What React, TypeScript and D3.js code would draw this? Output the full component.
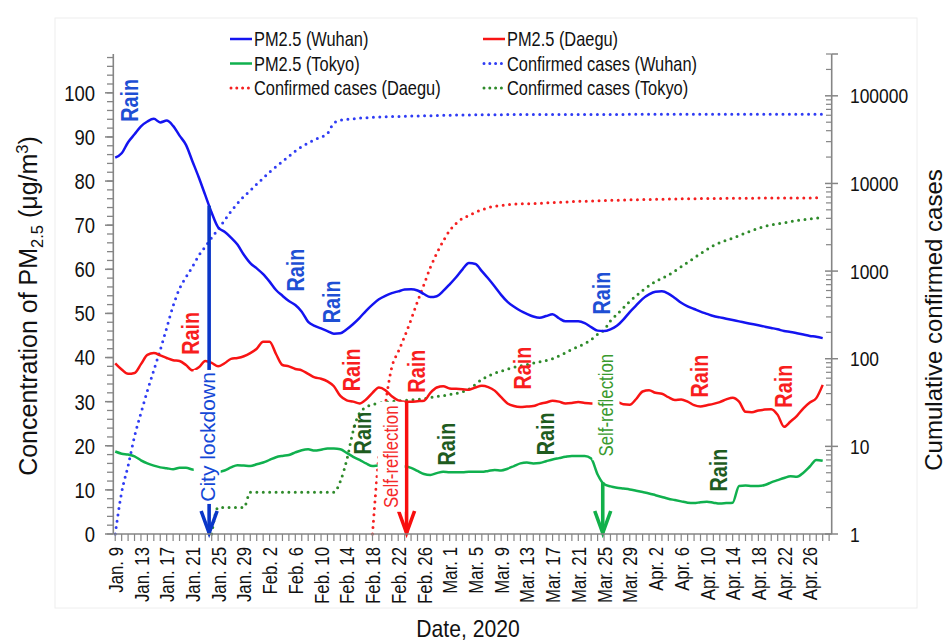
import React from "react";
import * as d3 from "d3";

// ---- data -----------------------------------------------------------------
// x tick labels (every 4th day, starting Jan. 9, 2020 = day 0)
const dayLabels = [
  "Jan. 9", "Jan. 13", "Jan. 17", "Jan. 21", "Jan. 25", "Jan. 29", "Feb. 2",
  "Feb. 6", "Feb. 10", "Feb. 14", "Feb. 18", "Feb. 22", "Feb. 26", "Mar. 1",
  "Mar. 5", "Mar. 9", "Mar. 13", "Mar. 17", "Mar. 21", "Mar. 25", "Mar. 29",
  "Apr. 2", "Apr. 6", "Apr. 10", "Apr. 14", "Apr. 18", "Apr. 22", "Apr. 26",
];

// daily PM2.5 (µg/m3), Jan. 9 .. Apr. 28
const pmWuhan = [
  85.3, 86.3, 88.8, 90.6, 92.4, 93.5, 94.1, 93.3, 93.7, 92.5, 90.3, 88.2, 84.5, 80.8, 76.8, 72.8,
  69.5, 68.5, 67.2, 65.6, 63.3, 61.4, 60.2, 58.9, 57.2, 55.3, 54.0, 52.8, 51.9, 50.4, 48.1, 47.2,
  46.6, 46.0, 45.4, 45.5, 46.4, 47.6, 49.0, 50.6, 52.0, 53.2, 54.0, 54.6, 55.0, 55.4, 55.5, 55.2,
  54.4, 53.7, 53.9, 55.1, 56.6, 58.2, 60.0, 61.4, 61.2, 59.6, 57.9, 56.1, 54.2, 52.6, 51.5, 50.6,
  49.9, 49.3, 49.0, 49.4, 49.8, 48.9, 48.2, 48.2, 48.2, 47.8, 46.9, 46.1, 46.0, 46.4, 47.2, 48.6,
  50.3, 51.8, 53.3, 54.3, 54.9, 55.0, 54.5, 53.5, 52.4, 51.6, 51.0, 50.4, 49.9, 49.4, 49.1, 48.8,
  48.5, 48.2, 47.9, 47.6, 47.3, 47.0, 46.7, 46.4, 46.0, 45.8, 45.5, 45.2, 44.9, 44.7, 44.4,
];
const pmDaegu = [
  38.7, 37.3, 36.3, 36.5, 38.5, 40.6, 41.0, 40.5, 39.9, 39.4, 39.2, 38.3, 37.1, 37.8, 39.2, 38.8,
  38.0, 38.7, 39.7, 39.9, 40.3, 41.0, 42.0, 43.6, 43.6, 40.8, 38.3, 38.0, 37.4, 37.1, 36.3, 35.5,
  35.2, 34.6, 33.5, 31.3, 30.3, 30.0, 29.6, 30.5, 32.0, 33.2, 32.6, 31.2, 30.3, 30.0, 30.0, 30.1,
  30.2, 32.0, 33.2, 33.5, 33.0, 32.9, 32.8, 32.7, 33.2, 33.6, 33.3, 32.5, 31.0, 29.6, 29.0, 28.8,
  28.9, 29.0, 29.5, 29.8, 30.2, 30.0, 29.6, 29.7, 29.9, 29.7, 29.6, 29.6, 29.7, 29.8, 29.9, 29.4,
  29.3, 30.6, 32.3, 32.6, 32.0, 31.8, 31.0, 30.4, 30.5, 30.0, 29.2, 28.9, 29.2, 29.5, 29.9, 30.5,
  30.9, 30.0, 27.7, 27.6, 28.0, 28.2, 28.3, 27.0, 24.3, 25.5, 26.8, 28.5, 29.8, 30.8, 33.8,
];
const pmTokyo = [
  18.7, 18.2, 18.0, 17.6, 16.7, 16.0, 15.5, 15.1, 14.9, 14.7, 15.0, 15.0, 14.6, 14.4, 14.3, 14.2,
  14.1, 14.4, 15.1, 15.6, 15.5, 15.4, 15.8, 16.2, 16.8, 17.4, 17.7, 17.9, 18.5, 19.0, 19.2, 18.9,
  19.1, 19.4, 19.4, 19.2, 18.4, 17.5, 16.8, 16.0, 15.4, 15.5, 15.4, 15.4, 15.3, 15.3, 15.0, 14.3,
  13.6, 13.4, 13.8, 14.1, 14.0, 14.0, 14.0, 14.1, 14.1, 14.1, 14.3, 14.5, 14.4, 14.8, 15.4, 16.0,
  16.2, 16.0, 16.1, 16.5, 16.9, 17.2, 17.5, 17.7, 17.7, 17.7, 17.1, 13.5, 11.3, 10.8, 10.5, 10.3,
  10.1, 9.8, 9.5, 9.2, 8.8, 8.4, 8.0, 7.7, 7.4, 7.1, 7.0, 7.2, 7.3, 7.1, 6.9, 7.0,
  7.1, 10.9, 11.0, 10.9, 10.9, 11.1, 11.7, 12.2, 12.7, 13.1, 13.0, 13.9, 15.3, 16.8, 16.6,
];

// cumulative confirmed cases (day index, count)
const wuhanCaseDays = [
  0, 1, 2, 3, 4, 5, 6, 7, 8, 9, 10, 11, 12, 13, 14, 15, 16, 17, 18, 19, 20, 21, 22, 23, 24, 25,
  26, 27, 28, 29, 30, 31, 32, 33, 34, 35, 36, 38, 42, 50, 60, 110,
];
const wuhanCases = [
  1, 3, 6, 13, 24, 43, 74, 126, 224, 400, 630, 850, 1120, 1510, 1900, 2400, 3000, 3800, 4800,
  5900, 7100, 8300, 9800, 11500, 13500, 15500, 17800, 20400, 23400, 26300, 28800, 31600, 33900,
  37100, 49000, 52500, 53700, 55600, 57500, 59600, 61000, 61700,
];
const daeguCaseDays = [
  40, 41, 42, 43, 44, 45, 46, 47, 48, 49, 50, 51, 52, 53, 54, 55, 56, 57, 58, 59, 60, 62, 65, 70,
  75, 80, 90, 100, 110,
];
const daeguCases = [
  1, 8, 30, 80, 120, 180, 280, 450, 700, 1100, 1600, 2200, 2900, 3500, 4000, 4300, 4700, 5000,
  5300, 5500, 5600, 5800, 5900, 6150, 6350, 6500, 6700, 6800, 6850,
];
const tokyoCaseDays = [
  15, 16, 20, 21, 34, 35, 36, 37, 38, 40, 44, 48, 50, 52, 55, 57, 61, 65, 68, 71, 74, 75, 76, 77,
  78, 80, 82, 84, 86, 88, 91, 93, 96, 99, 101, 104, 106, 110,
];
const tokyoCases = [
  1, 2, 2, 3, 3, 4, 7, 15, 24, 30, 33, 35, 37, 39, 45, 58, 76, 89, 100, 128, 165, 190, 212, 270,
  320, 450, 600, 760, 900, 1120, 1580, 1950, 2380, 2900, 3250, 3560, 3780, 4070,
];

// rain annotations: day and PM2.5 level of the label centre, colour group
const rainDays = [2.3, 28, 33.7, 75.7, 11.8, 36.8, 46.8, 63.3, 90.8, 104, 38.5, 51.6, 67, 93.9];
const rainLevels = [98.3, 59.8, 52.6, 54.6, 45.5, 37.2, 36.9, 37.6, 35.8, 33.5, 22.9, 20.4, 22.7, 14.5];
const rainGroups = ["w", "w", "w", "w", "d", "d", "d", "d", "d", "d", "t", "t", "t", "t"];

// policy events: arrow day, label text, label centre (day, level)
const eventDays = [14.6, 45.3, 75.8];
const eventTexts = ["City lockdown", "Self-reflection", "Self-reflection"];
const eventLabelDays = [14.3, 42.9, 76.3];
const eventLabelLevels = [22, 17.5, 29.2];

// ---- styling ----------------------------------------------------------------
const W = 946;
const H = 643;
const FONT = "'Liberation Sans', Arial, Helvetica, sans-serif";
const AXIS = "#858585";

const C = {
  wuhan: "#1414f0",
  daegu: "#f81414",
  tokyo: "#10b04e",
  wuhanCase: "#2f3cf4",
  daeguCase: "#f52020",
  tokyoCase: "#2e8a2a",
  rainW: "#1e4fd4",
  rainD: "#f81e1e",
  rainT: "#1f5c1f",
};
const eventText = ["#1448d6", "#f52a2a", "#3a9a2e"];
const eventArrow = ["#0a36c8", "#f80e0e", "#12b04a"];

const x = d3.scaleLinear().domain([-0.3, 111.4]).range([113.3, 831.7]);
const yL = d3.scaleLinear().domain([0, 108.8]).range([534, 54]);
const yR = d3.scaleLog().domain([1, 3e5]).range([534, 54]);

type Pt = [number, number];
const pmLine = d3
  .line<Pt>()
  .x((d) => x(d[0]))
  .y((d) => yL(d[1]))
  .curve(d3.curveMonotoneX);
const caseLine = d3
  .line<Pt>()
  .x((d) => x(d[0]))
  .y((d) => yR(d[1]))
  .curve(d3.curveMonotoneX);

const daily = (vals: number[]): Pt[] => vals.map((v, i) => [i, v]);
const zipPts = (ds: number[], vs: number[]): Pt[] => ds.map((d, i) => [d, vs[i]]);
const valueAt = (vals: number[], day: number) => {
  const i = Math.floor(day);
  const f = day - i;
  return vals[i] + (vals[Math.min(i + 1, vals.length - 1)] - vals[i]) * f;
};

type TProps = {
  x: number;
  y: number;
  rot?: number;
  sx?: number;
  anchor?: "start" | "middle" | "end";
  size: number;
  weight?: string | number;
  fill?: string;
  dy?: string;
  children: React.ReactNode;
};
const T = ({ x, y, rot = 0, sx = 1, anchor = "start", size, weight = "normal", fill = "#111", dy, children }: TProps) => (
  <text
    transform={`translate(${x},${y}) rotate(${rot}) scale(${sx},1)`}
    textAnchor={anchor}
    fontSize={size}
    fontWeight={weight}
    fill={fill}
    fontFamily={FONT}
    dy={dy}
  >
    {children}
  </text>
);

const legendRows = [
  { label: "PM2.5 (Wuhan)", color: C.wuhan, dotted: false, col: 0, row: 0 },
  { label: "PM2.5 (Daegu)", color: C.daegu, dotted: false, col: 1, row: 0 },
  { label: "PM2.5 (Tokyo)", color: C.tokyo, dotted: false, col: 0, row: 1 },
  { label: "Confirmed cases (Wuhan)", color: C.wuhanCase, dotted: true, col: 1, row: 1 },
  { label: "Confirmed cases (Daegu)", color: C.daeguCase, dotted: true, col: 0, row: 2 },
  { label: "Confirmed cases (Tokyo)", color: C.tokyoCase, dotted: true, col: 1, row: 2 },
];

const DOTS = { strokeDasharray: "0 6.4", strokeLinecap: "round" as const, strokeWidth: 3 };

export default function App() {
  const leftTicks = d3.range(0, 101, 10);
  const leftMinor = d3.range(0, 109, 2);
  const rightMajor = [1, 10, 100, 1000, 10000, 100000];
  const rightMinor: number[] = [];
  for (let e = 0; e <= 5; e++) {
    for (let m = 2; m <= 9; m++) {
      const v = m * Math.pow(10, e);
      if (v <= 3e5) rightMinor.push(v);
    }
  }
  const dayTicks = d3.range(0, 112, 1);
  const pmSeries = [pmWuhan, pmDaegu, pmTokyo];

  return (
    <svg
      width={W}
      height={H}
      viewBox={`0 0 ${W} ${H}`}
      style={{ position: "absolute", left: 0, top: 0, background: "#fff" }}
    >
      <rect x={0} y={0} width={W} height={H} fill="#fff" />
      <rect x={55} y={18} width={862} height={590} fill="none" stroke="#eeeeee" strokeWidth={1} />

      {/* confirmed cases (right, log axis) */}
      <path d={caseLine(zipPts(wuhanCaseDays, wuhanCases)) || ""} fill="none" stroke={C.wuhanCase} {...DOTS} />
      <path d={caseLine(zipPts(daeguCaseDays, daeguCases)) || ""} fill="none" stroke={C.daeguCase} {...DOTS} />
      <path d={caseLine(zipPts(tokyoCaseDays, tokyoCases)) || ""} fill="none" stroke={C.tokyoCase} {...DOTS} />

      {/* PM2.5 (left axis) */}
      <path d={pmLine(daily(pmWuhan)) || ""} fill="none" stroke={C.wuhan} strokeWidth={2.5} strokeLinejoin="round" />
      <path d={pmLine(daily(pmDaegu)) || ""} fill="none" stroke={C.daegu} strokeWidth={2.5} strokeLinejoin="round" />
      <path d={pmLine(daily(pmTokyo)) || ""} fill="none" stroke={C.tokyo} strokeWidth={2.5} strokeLinejoin="round" />

      {/* event arrows */}
      {eventDays.map((d, i) => {
        const ax = x(d);
        const top = yL(valueAt(pmSeries[i], d));
        const bottom = yL(0);
        return (
          <g key={`arrow-${i}`} stroke={eventArrow[i]} strokeWidth={3.6} fill="none" strokeLinecap="butt">
            <line x1={ax} x2={ax} y1={top} y2={bottom - 1} />
            <polyline points={`${ax - 8},${bottom - 23} ${ax},${bottom - 1} ${ax + 8},${bottom - 23}`} strokeLinejoin="miter" />
          </g>
        );
      })}

      {/* event labels on white boxes */}
      {eventTexts.map((t, i) => {
        const cx = x(eventLabelDays[i]);
        const cy = yL(eventLabelLevels[i]);
        const half = i === 0 ? 67 : 55;
        return (
          <g key={`ev-${i}`}>
            <rect x={cx - 13.5} y={cy - half} width={27} height={half * 2} fill="#fff" />
            {i === 0 ? (
              <T x={cx} y={cy} rot={-90} anchor="middle" size={21} fill={eventText[i]} dy="0.36em">
                {t}
              </T>
            ) : (
              <T x={cx} y={cy} rot={-90} sx={0.84} anchor="middle" size={20} fill={eventText[i]} dy="0.36em">
                {t}
              </T>
            )}
          </g>
        );
      })}

      {/* rain labels */}
      {rainDays.map((d, i) => {
        const g = rainGroups[i];
        const fill = g === "w" ? C.rainW : g === "d" ? C.rainD : C.rainT;
        return (
          <T key={`rain-${i}`} x={x(d)} y={yL(rainLevels[i])} rot={-90} sx={0.86} anchor="middle" size={23} weight="bold" fill={fill} dy="0.36em">
            Rain
          </T>
        );
      })}

      {/* left axis */}
      <line x1={113.3} x2={113.3} y1={54} y2={534} stroke={AXIS} strokeWidth={1.6} />
      {leftMinor.map((v) => (
        <line key={`lm-${v}`} x1={107} x2={113.3} y1={yL(v)} y2={yL(v)} stroke={AXIS} strokeWidth={1.3} />
      ))}
      {leftTicks.map((v) => (
        <g key={`lt-${v}`}>
          <line x1={105} x2={113.3} y1={yL(v)} y2={yL(v)} stroke={AXIS} strokeWidth={1.5} />
          <T x={95} y={yL(v)} sx={0.84} anchor="end" size={22} dy="0.36em">
            {v}
          </T>
        </g>
      ))}

      {/* right axis */}
      <line x1={831.7} x2={831.7} y1={54} y2={534} stroke={AXIS} strokeWidth={1.6} />
      <line x1={831.7} x2={838} y1={54} y2={54} stroke={AXIS} strokeWidth={1.5} />
      {rightMinor.map((v) => (
        <line key={`rm-${v}`} x1={826} x2={831.7} y1={yR(v)} y2={yR(v)} stroke={AXIS} strokeWidth={1.2} />
      ))}
      {rightMajor.map((v) => (
        <g key={`rt-${v}`}>
          <line x1={825} x2={838} y1={yR(v)} y2={yR(v)} stroke={AXIS} strokeWidth={1.5} />
          <T x={850} y={yR(v)} sx={0.83} anchor="start" size={21} dy="0.36em">
            {v}
          </T>
        </g>
      ))}

      {/* bottom axis */}
      <line x1={113.3} x2={831.7} y1={534} y2={534} stroke={AXIS} strokeWidth={1.6} />
      {dayTicks.map((d) => (
        <line key={`xt-${d}`} x1={x(d)} x2={x(d)} y1={534} y2={541} stroke={AXIS} strokeWidth={1.2} />
      ))}
      {dayLabels.map((lab, i) => (
        <T key={`xl-${i}`} x={x(i * 4)} y={547} rot={-90} sx={0.8} anchor="end" size={21} dy="0.36em">
          {lab}
        </T>
      ))}

      {/* axis titles */}
      <text transform="translate(37,306) rotate(-90)" textAnchor="middle" fontSize={25} fontFamily={FONT} fill="#111">
        Concentration of PM
        <tspan fontSize={16.5} dy={6}>2.5</tspan>
        <tspan dy={-6}> (μg/m</tspan>
        <tspan fontSize={16.5} dy={-9}>3</tspan>
        <tspan dy={9}>)</tspan>
      </text>
      <T x={942} y={320} rot={-90} anchor="middle" size={24}>
        Cumulative confirmed cases
      </T>
      <T x={468} y={637} sx={0.88} anchor="middle" size={24}>
        Date, 2020
      </T>

      {/* legend */}
      {legendRows.map((r, i) => {
        const lx = r.col === 0 ? 230 : 483;
        const ly = 39 + r.row * 24.5;
        return (
          <g key={`lg-${i}`}>
            {r.dotted ? (
              <line x1={lx + 1} x2={lx + 19} y1={ly} y2={ly} stroke={r.color} {...DOTS} strokeDasharray="0 5.8" />
            ) : (
              <line x1={lx} x2={lx + 22} y1={ly} y2={ly} stroke={r.color} strokeWidth={2.5} />
            )}
            <T x={lx + 24} y={ly} sx={0.82} anchor="start" size={20} dy="0.36em">
              {r.label}
            </T>
          </g>
        );
      })}
    </svg>
  );
}
